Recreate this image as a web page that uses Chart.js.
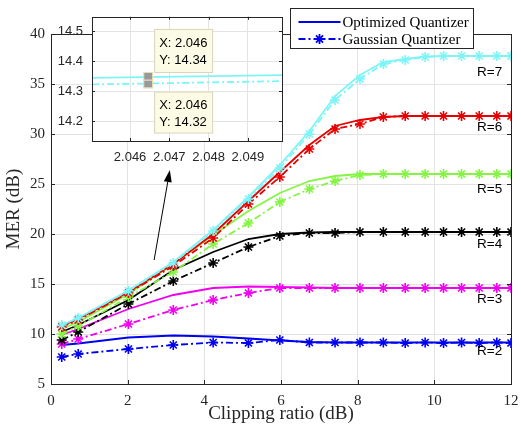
<!DOCTYPE html>
<html><head><meta charset="utf-8">
<script src="https://cdn.jsdelivr.net/npm/chart.js@4/dist/chart.umd.min.js"></script>
<style>
html,body{margin:0;padding:0;background:#fff;}
#wrap{position:relative;width:521px;height:428px;overflow:hidden;}
canvas{position:absolute;left:0;top:0;}
</style></head><body>
<div id="wrap"><canvas id="main" width="521" height="428"></canvas><canvas id="inset" width="300" height="175"></canvas></div>
<script>
// ---------- data ----------
const clippingDb = [0.28, 0.71, 2.02, 3.19, 4.23, 5.15, 5.97, 6.74, 7.41, 8.06, 8.67, 9.24, 9.76, 10.24, 10.71, 11.17, 11.63, 12.0];
const rLevels = ['R=2', 'R=3', 'R=4', 'R=5', 'R=6', 'R=7'];
const optR2 = [8.9, 9.05, 9.65, 9.85, 9.75, 9.55, 9.35, 9.2, 9.15, 9.15, 9.15, 9.15, 9.15, 9.15, 9.15, 9.15, 9.15, 9.15];
const gaussR2 = [7.7, 8.0, 8.5, 8.9, 9.15, 9.1, 9.4, 9.15, 9.15, 9.15, 9.15, 9.1, 9.15, 9.1, 9.15, 9.1, 9.15, 9.1];
const optR3 = [9.9, 10.5, 12.5, 13.9, 14.6, 14.75, 14.7, 14.65, 14.6, 14.6, 14.6, 14.6, 14.6, 14.6, 14.6, 14.6, 14.6, 14.6];
const gaussR3 = [9.0, 9.5, 11.0, 12.4, 13.4, 14.1, 14.6, 14.6, 14.6, 14.6, 14.6, 14.6, 14.6, 14.6, 14.6, 14.6, 14.6, 14.6];
const optR4 = [10.2, 10.9, 13.4, 16.4, 18.2, 19.5, 20.0, 20.15, 20.2, 20.2, 20.2, 20.2, 20.2, 20.2, 20.2, 20.2, 20.2, 20.2];
const gaussR4 = [9.4, 10.2, 13.0, 15.3, 17.1, 18.7, 19.8, 20.1, 20.1, 20.2, 20.2, 20.2, 20.2, 20.2, 20.2, 20.2, 20.2, 20.2];
const optR5 = [10.5, 11.2, 14.0, 17.0, 19.9, 22.3, 24.1, 25.3, 25.8, 26.0, 26.0, 26.0, 26.0, 26.0, 26.0, 26.0, 26.0, 26.0];
const gaussR5 = [10.0, 10.8, 13.7, 16.2, 19.0, 21.1, 23.2, 24.5, 25.3, 25.9, 26.0, 26.0, 26.0, 26.0, 26.0, 26.0, 26.0, 26.0];
const optR6 = [10.8, 11.5, 14.2, 17.0, 20.0, 23.3, 26.2, 28.9, 30.8, 31.4, 31.7, 31.8, 31.8, 31.8, 31.8, 31.8, 31.8, 31.8];
const gaussR6 = [10.7, 11.4, 14.1, 16.8, 19.6, 23.0, 25.7, 28.5, 30.5, 31.0, 31.7, 31.8, 31.8, 31.8, 31.8, 31.8, 31.8, 31.8];
const optR7 = [10.9, 11.6, 14.35, 17.2, 20.4, 23.7, 26.9, 30.3, 33.8, 35.9, 37.2, 37.5, 37.75, 37.8, 37.8, 37.8, 37.8, 37.8];
const gaussR7 = [10.9, 11.6, 14.32, 17.1, 20.3, 23.5, 26.6, 30.0, 33.4, 35.5, 37.0, 37.4, 37.7, 37.8, 37.8, 37.8, 37.8, 37.8];
const xTicks = [0, 2, 4, 6, 8, 10, 12];
const yTicks = [5, 10, 15, 20, 25, 30, 35, 40];
const legendNames = ['Optimized Quantizer', 'Gaussian Quantizer'];
const rLabelX = 11.77;
const rLabelY = [8.3, 13.5, 19.0, 24.5, 30.65, 36.2];
const arrowFrom = [2.69, 17.4];
const arrowTo = [3.10, 26.4];
// inset (zoom) data
const insetX = [2.04503, 2.04987];
const insetOpt = [14.345, 14.354];
const insetGauss = [14.323, 14.334];
const insetXTicks = [2.046, 2.047, 2.048, 2.049];
const insetYTicks = [14.2, 14.3, 14.4, 14.5];
const tipX = 2.04646;
const tipY = [14.348, 14.326];
const tipText = [['X: 2.046', 'Y: 14.34'], ['X: 2.046', 'Y: 14.32']];

// ---------- styles ----------
const colors = ['#0000f0', '#f000f0', '#000000', '#84f542', '#e60000', '#7df5f7'];
const optSeries = [optR2, optR3, optR4, optR5, optR6, optR7];
const gaussSeries = [gaussR2, gaussR3, gaussR4, gaussR5, gaussR6, gaussR7];
const DASHDOT = [7, 3, 2, 3];
const AX = '#262626';
const GRID = '#e3e3e3';
const SERIF = 'Liberation Serif';
const SANS = 'Liberation Sans';

const pts = ys => ys.map((y, i) => ({x: clippingDb[i], y}));
const datasets = [];
for (let k = rLevels.length - 1; k >= 0; k--) {
  datasets.push({label: legendNames[0] + ' ' + rLevels[k], data: pts(optSeries[k]), borderColor: colors[k],
    borderWidth: 1.8, pointRadius: 0, fill: false, tension: 0});
  datasets.push({label: legendNames[1] + ' ' + rLevels[k], data: pts(gaussSeries[k]), borderColor: colors[k],
    backgroundColor: colors[k], borderWidth: 1.8, borderDash: DASHDOT, pointStyle: 'star', pointRadius: 5,
    pointBorderWidth: 1.6, pointBorderColor: colors[k], fill: false, tension: 0});
}

function boxAndTicks(chart, xt, yt, len) {
  const {ctx, chartArea: a, scales: {x, y}} = chart;
  ctx.save();
  ctx.strokeStyle = AX; ctx.lineWidth = 1;
  ctx.beginPath();
  xt.forEach(v => { const px = Math.round(x.getPixelForValue(v)) + 0.5;
    ctx.moveTo(px, a.bottom); ctx.lineTo(px, a.bottom - len);
    ctx.moveTo(px, a.top); ctx.lineTo(px, a.top + len); });
  yt.forEach(v => { const py = Math.round(y.getPixelForValue(v)) + 0.5;
    ctx.moveTo(a.left, py); ctx.lineTo(a.left + len, py);
    ctx.moveTo(a.right, py); ctx.lineTo(a.right - len, py); });
  ctx.stroke();
  ctx.strokeRect(Math.round(a.left) + 0.5, Math.round(a.top) + 0.5, Math.round(a.right - a.left), Math.round(a.bottom - a.top));
  ctx.restore();
}

const mainPlugin = {
  id: 'mainDecor',
  afterDraw(chart) {
    const {ctx, scales: {x, y}} = chart;
    boxAndTicks(chart, xTicks, yTicks, 4);
    // R labels
    ctx.save();
    ctx.font = '13.5px ' + SANS; ctx.fillStyle = '#000'; ctx.textAlign = 'right'; ctx.textBaseline = 'middle';
    rLevels.forEach((t, i) => ctx.fillText(t, x.getPixelForValue(rLabelX), y.getPixelForValue(rLabelY[i])));
    // arrow
    const x0 = x.getPixelForValue(arrowFrom[0]), y0 = y.getPixelForValue(arrowFrom[1]);
    const x1 = x.getPixelForValue(arrowTo[0]), y1 = y.getPixelForValue(arrowTo[1]);
    const ang = Math.atan2(y1 - y0, x1 - x0);
    const hl = 12, hw = 4;
    const bx = x1 - hl * Math.cos(ang), by = y1 - hl * Math.sin(ang);
    ctx.strokeStyle = '#000'; ctx.lineWidth = 1;
    ctx.beginPath(); ctx.moveTo(x0, y0); ctx.lineTo(bx, by); ctx.stroke();
    ctx.fillStyle = '#000';
    ctx.beginPath(); ctx.moveTo(x1, y1);
    ctx.lineTo(bx + hw * Math.sin(ang), by - hw * Math.cos(ang));
    ctx.lineTo(bx - hw * Math.sin(ang), by + hw * Math.cos(ang));
    ctx.closePath(); ctx.fill();
    // legend
    const L = 290.5, T = 8.5, W = 183, H = 40;
    ctx.fillStyle = '#fff'; ctx.fillRect(L, T, W, H);
    ctx.strokeStyle = AX; ctx.lineWidth = 1; ctx.strokeRect(L, T, W, H);
    const rows = [T + 13.5, T + 30.5];
    const s0 = L + 8, s1 = L + 50;
    ctx.strokeStyle = colors[0]; ctx.lineWidth = 1.8;
    ctx.beginPath(); ctx.moveTo(s0, rows[0]); ctx.lineTo(s1, rows[0]); ctx.stroke();
    ctx.setLineDash(DASHDOT);
    ctx.beginPath(); ctx.moveTo(s0, rows[1]); ctx.lineTo(s1, rows[1]); ctx.stroke();
    ctx.setLineDash([]);
    Chart.helpers.drawPoint(ctx, {pointStyle: 'star', radius: 5, borderWidth: 1.6}, (s0 + s1) / 2, rows[1]);
    ctx.fillStyle = '#000'; ctx.textAlign = 'left'; ctx.textBaseline = 'middle';
    ctx.font = '15px ' + SERIF;
    legendNames.forEach((n, i) => ctx.fillText(n, s1 + 2, rows[i] + 1));
    ctx.restore();
  }
};

new Chart(document.getElementById('main'), {
  type: 'line',
  data: {datasets},
  options: {
    responsive: false, animation: false, devicePixelRatio: 1,
    layout: {padding: {left: 0, right: 10, top: 34, bottom: 0}},
    plugins: {legend: {display: false}, tooltip: {enabled: false}},
    scales: {
      x: {type: 'linear', min: 0, max: 12,
        afterBuildTicks: s => { s.ticks = xTicks.map(v => ({value: v})); },
        afterFit: s => { s.height = 44; s.paddingLeft = 0; s.paddingRight = 0; },
        grid: {color: GRID, drawTicks: false}, border: {display: false},
        ticks: {padding: 8, maxRotation: 0, color: AX, font: {family: SERIF, size: 15}},
        title: {display: true, text: 'Clipping ratio (dB)', color: AX, font: {family: SERIF, size: 19}, padding: {top: 0, bottom: 3}}
      },
      y: {type: 'linear', min: 5, max: 40,
        afterBuildTicks: s => { s.ticks = yTicks.map(v => ({value: v})); },
        afterFit: s => { s.width = 51; },
        grid: {color: GRID, drawTicks: false}, border: {display: false},
        ticks: {padding: 6, color: AX, font: {family: SERIF, size: 15}},
        title: {display: true, text: 'MER (dB)', color: AX, font: {family: SERIF, size: 19}, padding: {top: 3, bottom: 0}}
      }
    }
  },
  plugins: [mainPlugin]
});

// ---------- inset ----------
const insetPlugin = {
  id: 'insetDecor',
  beforeDraw(chart) {
    const {ctx, chartArea: a} = chart;
    ctx.save(); ctx.fillStyle = '#fff'; ctx.fillRect(a.left, a.top, a.right - a.left, a.bottom - a.top); ctx.restore();
  },
  afterDraw(chart) {
    const {ctx, scales: {x, y}} = chart;
    boxAndTicks(chart, insetXTicks, insetYTicks, 3);
    ctx.save();
    const px = x.getPixelForValue(tipX);
    const py0 = y.getPixelForValue(tipY[0]), py1 = y.getPixelForValue(tipY[1]);
    // tip boxes
    const boxes = [[px + 6, py0 - 48, 58, 43], [px + 6, py1 + 8, 58, 41]];
    ctx.font = '13px ' + SANS; ctx.textBaseline = 'middle'; ctx.textAlign = 'left';
    boxes.forEach((b, i) => {
      ctx.fillStyle = '#fcfce6'; ctx.fillRect(b[0], b[1], b[2], b[3]);
      ctx.strokeStyle = '#d9d4b8'; ctx.lineWidth = 1; ctx.strokeRect(b[0] + 0.5, b[1] + 0.5, b[2], b[3]);
      ctx.fillStyle = '#000';
      ctx.fillText(tipText[i][0], b[0] + 5, b[1] + 14);
      ctx.fillText(tipText[i][1], b[0] + 5, b[1] + 31);
    });
    // markers
    [py0, py1].forEach((py, i) => {
      const top = i === 0 ? py - 4 : py - 3;
      ctx.fillStyle = '#999'; ctx.fillRect(px - 4, top, 8, 7);
      ctx.strokeStyle = '#e6dcb0'; ctx.lineWidth = 1; ctx.strokeRect(px - 4.5, top - 0.5, 9, 8);
    });
    ctx.restore();
  }
};

new Chart(document.getElementById('inset'), {
  type: 'line',
  data: {datasets: [
    {data: insetX.map((v, i) => ({x: v, y: insetOpt[i]})), borderColor: colors[5], borderWidth: 1.8, pointRadius: 0},
    {data: insetX.map((v, i) => ({x: v, y: insetGauss[i]})), borderColor: colors[5], borderWidth: 1.8, borderDash: DASHDOT, pointRadius: 0}
  ]},
  options: {
    responsive: false, animation: false, devicePixelRatio: 1,
    layout: {padding: {left: 0, right: 18, top: 7, bottom: 0}},
    plugins: {legend: {display: false}, tooltip: {enabled: false}},
    scales: {
      x: {type: 'linear', min: insetX[0], max: insetX[1],
        afterBuildTicks: s => { s.ticks = insetXTicks.map(v => ({value: v})); },
        afterFit: s => { s.height = 34; s.paddingLeft = 0; s.paddingRight = 0; },
        grid: {color: GRID, drawTicks: false}, border: {display: false},
        ticks: {padding: 9, maxRotation: 0, color: AX, font: {family: SANS, size: 13}, callback: v => v.toFixed(3)}
      },
      y: {type: 'linear', min: 14.135, max: 14.548,
        afterBuildTicks: s => { s.ticks = insetYTicks.map(v => ({value: v})); },
        afterFit: s => { s.width = 92; },
        grid: {color: GRID, drawTicks: false}, border: {display: false},
        ticks: {padding: 9, color: AX, font: {family: SANS, size: 13}, callback: v => v.toFixed(1)}
      }
    }
  },
  plugins: [insetPlugin]
});
</script>
</body></html>
